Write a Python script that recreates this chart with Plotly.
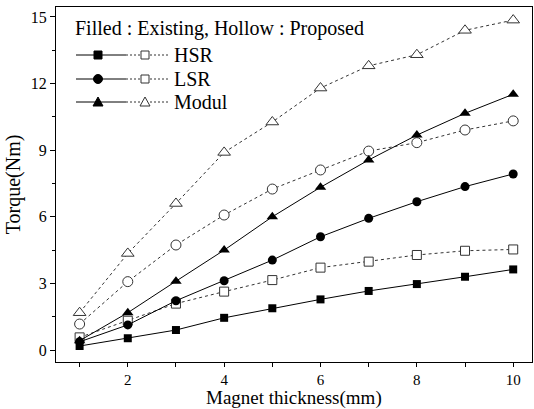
import plotly.graph_objects as go

thickness = [1, 2, 3, 4, 5, 6, 7, 8, 9, 10]

hsr_existing = [0.18, 0.53, 0.90, 1.45, 1.88, 2.28, 2.66, 2.97, 3.30, 3.63]
hsr_proposed = [0.57, 1.32, 2.09, 2.63, 3.15, 3.71, 3.98, 4.28, 4.47, 4.53]
lsr_existing = [0.37, 1.13, 2.22, 3.12, 4.05, 5.10, 5.93, 6.68, 7.36, 7.93]
lsr_proposed = [1.17, 3.08, 4.73, 6.08, 7.25, 8.11, 8.96, 9.34, 9.91, 10.32]
mod_existing = [0.42, 1.68, 3.10, 4.50, 6.00, 7.33, 8.56, 9.68, 10.66, 11.52]
mod_proposed = [1.68, 4.35, 6.60, 8.90, 10.27, 11.80, 12.80, 13.30, 14.40, 14.86]

series_names = ["HSR", "LSR", "Modul"]
legend_title = "Filled : Existing, Hollow : Proposed"
x_title = "Magnet thickness(mm)"
y_title = "Torque(Nm)"

FONT = "Liberation Serif"
W, H = 534, 409
L, R, T, B = 56, 2, 7, 47
PW, PH = W - L - R, H - T - B

fig = go.Figure()

def add(y, symbol, size, dashed):
    fig.add_trace(go.Scatter(
        x=thickness, y=y, mode="lines+markers",
        line=dict(color="black" if not dashed else "#333333", width=1,
                  dash="3px,3px" if dashed else "solid"),
        marker=dict(symbol=symbol, size=size,
                    color="black" if not dashed else "white",
                    line=dict(color="#333333", width=1 if dashed else 0)),
        showlegend=False, cliponaxis=False))

add(hsr_existing, "square", 8, False)
add(hsr_proposed, "square", 9, True)
add(lsr_existing, "circle", 9, False)
add(lsr_proposed, "circle", 10, True)
add(mod_existing, "triangle-up", 10, False)
add(mod_proposed, "triangle-up", 11, True)

# custom legend (decoration, paper coords from pixel positions)
def px(x):
    return (x - L) / PW
def py(y):
    return (H - B - y) / PH

shapes = []
annotations = []
annotations.append(dict(x=px(73), y=py(28), xref="paper", yref="paper",
                        text=legend_title, showarrow=False, xanchor="left",
                        yanchor="middle", font=dict(family=FONT, size=20, color="black")))

legend_markers = [("square", "square"), ("circle", "square"), ("triangle", "triangle")]
ys = [55, 79, 102]
for name, (fm, hm), yc in zip(series_names, legend_markers, ys):
    shapes.append(dict(type="line", xref="paper", yref="paper",
                       x0=px(76), x1=px(126), y0=py(yc), y1=py(yc),
                       line=dict(color="black", width=1)))
    shapes.append(dict(type="line", xref="paper", yref="paper",
                       x0=px(126), x1=px(168), y0=py(yc), y1=py(yc),
                       line=dict(color="#333333", width=1, dash="2px,2px")))
    for cx, kind, filled in [(98, fm, True), (145, hm, False)]:
        fill = "black" if filled else "white"
        lc = "black" if filled else "#333333"
        if kind == "square":
            s = 4
            shapes.append(dict(type="rect", xref="paper", yref="paper",
                               x0=px(cx - s), x1=px(cx + s), y0=py(yc - s), y1=py(yc + s),
                               fillcolor=fill, line=dict(color=lc, width=1)))
        elif kind == "circle":
            s = 4.5
            shapes.append(dict(type="circle", xref="paper", yref="paper",
                               x0=px(cx - s), x1=px(cx + s), y0=py(yc - s), y1=py(yc + s),
                               fillcolor=fill, line=dict(color=lc, width=1)))
        else:
            s = 5
            path = "M {} {} L {} {} L {} {} Z".format(
                px(cx), py(yc - s), px(cx - s), py(yc + s * 0.8), px(cx + s), py(yc + s * 0.8))
            shapes.append(dict(type="path", xref="paper", yref="paper", path=path,
                               fillcolor=fill, line=dict(color=lc, width=1)))
    annotations.append(dict(x=px(172), y=py(yc), xref="paper", yref="paper",
                            text=name, showarrow=False, xanchor="left", yanchor="middle",
                            font=dict(family=FONT, size=20, color="black")))

# x-axis title placed as annotation near the bottom edge
annotations.append(dict(x=0.5, y=py(410), xref="paper", yref="paper",
                        text=x_title, showarrow=False, xanchor="center", yanchor="bottom",
                        borderpad=0,
                        font=dict(family=FONT, size=19, color="black")))

fig.update_layout(
    width=W, height=H,
    margin=dict(l=L, r=R, t=T, b=B),
    plot_bgcolor="white", paper_bgcolor="white",
    font=dict(family=FONT, size=15, color="black"),
    shapes=shapes, annotations=annotations,
    xaxis=dict(range=[0.51, 10.39], tickmode="linear", tick0=0, dtick=2,
               ticks="outside", ticklen=4, tickwidth=1, tickcolor="black",
               minor=dict(dtick=1, tick0=0, ticks="outside", ticklen=4, tickcolor="black"),
               showline=True, linecolor="black", linewidth=1, mirror=True,
               showgrid=False, zeroline=False,
               tickfont=dict(family=FONT, size=15)),
    yaxis=dict(range=[-0.54, 15.45], tickmode="linear", tick0=0, dtick=3,
               ticks="outside", ticklen=5, tickwidth=1, tickcolor="black",
               minor=dict(dtick=1.5, tick0=0, ticks="outside", ticklen=3, tickcolor="black"),
               showline=True, linecolor="black", linewidth=1, mirror=True,
               showgrid=False, zeroline=False,
               title=dict(text=y_title, font=dict(family=FONT, size=20), standoff=4),
               tickfont=dict(family=FONT, size=16)),
)

fig.write_html("out.html")
